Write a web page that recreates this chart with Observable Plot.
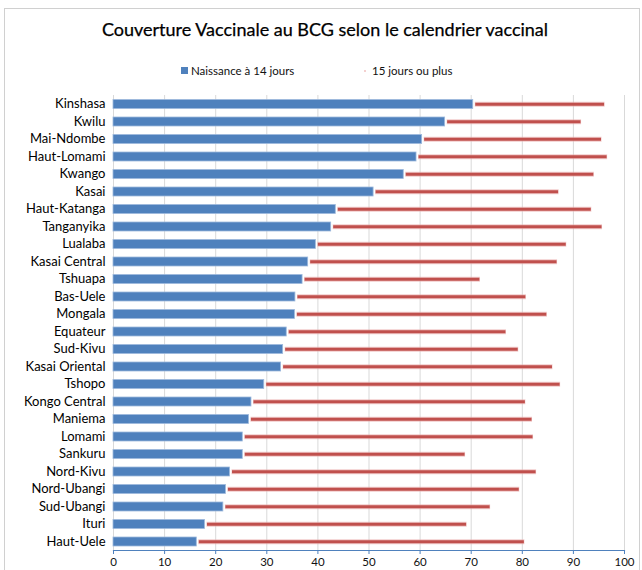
<!DOCTYPE html>
<html>
<head>
<meta charset="utf-8">
<script src="https://cdn.jsdelivr.net/npm/d3@7"></script>
<script src="https://cdn.jsdelivr.net/npm/@observablehq/plot@0.6"></script>
<style>
  html, body { margin: 0; padding: 0; background: #fff; }
  body { width: 642px; height: 570px; overflow: hidden; position: relative; font-family: Lato, "DejaVu Sans", sans-serif; }
  #frame { position: absolute; left: 4px; top: 8px; width: 636px; height: 600px; border: 1px solid #d0d0d0; box-sizing: border-box; }
  #title { position: absolute; left: 0; top: 18px; width: 650px; text-align: center; font-size: 18px; font-weight: normal; color: #000; -webkit-text-stroke: 0.25px #000; }
  #legend { position: absolute; top: 64px; left: 0; width: 642px; font-size: 11.5px; color: #111; }
  .li { position: absolute; display: flex; align-items: center; white-space: nowrap; }
  .sw { display: inline-block; margin-right: 3px; }
  #chart { position: absolute; left: 0; top: 90px; }
  #chart svg { display: block; }
</style>
</head>
<body>
<div id="frame"></div>
<div id="title">Couverture Vaccinale au BCG selon le calendrier vaccinal</div>
<div id="legend"></div>
<div id="chart"></div>
<script>
const regions = ["Kinshasa","Kwilu","Mai-Ndombe","Haut-Lomami","Kwango","Kasai","Haut-Katanga","Tanganyika","Lualaba","Kasai Central","Tshuapa","Bas-Uele","Mongala","Equateur","Sud-Kivu","Kasai Oriental","Tshopo","Kongo Central","Maniema","Lomami","Sankuru","Nord-Kivu","Nord-Ubangi","Sud-Ubangi","Ituri","Haut-Uele"];
const naissance14 = [70.4,64.9,60.4,59.3,56.8,50.9,43.5,42.6,39.6,38.1,37.0,35.6,35.5,33.9,33.2,32.8,29.5,27.0,26.5,25.3,25.3,22.8,22.0,21.5,17.9,16.3];
const jours15plus = [25.8,26.7,35.2,37.4,37.3,36.3,50.1,53.1,49.1,48.8,34.8,45.2,49.4,43.0,46.1,53.2,58.0,53.7,55.5,56.9,43.6,60.0,57.5,52.3,51.3,64.2];
const xTicks = [0,10,20,30,40,50,60,70,80,90,100];
const seriesNames = ["Naissance à 14 jours", "15 jours ou plus"];
const colors = ["#4F81BD", "#C0504D"];

const rows = regions.map((r, i) => ({
  region: r,
  a: naissance14[i],
  b: jours15plus[i],
  end: naissance14[i] + jours15plus[i]
}));

// legend
const legend = document.getElementById("legend");
const lgPos = [{left: 181, sw: `<span class="sw" style="width:7px;height:7px;background:${colors[0]}"></span>`},
               {left: 364, sw: `<span class="sw" style="width:2px;height:2px;background:#f4d0cf;margin-right:6px"></span>`}];
seriesNames.forEach((n, i) => {
  const d = document.createElement("div");
  d.className = "li";
  d.style.left = lgPos[i].left + "px";
  d.innerHTML = lgPos[i].sw + `<span>${n}</span>`;
  legend.appendChild(d);
});

const plot = Plot.plot({
  width: 642,
  height: 482,
  marginLeft: 113,
  marginRight: 18,
  marginTop: 5,
  marginBottom: 22,
  style: { fontFamily: "Lato, 'DejaVu Sans', sans-serif", fontSize: "13px", color: "#000", background: "transparent" },
  x: { domain: [0, 100], ticks: xTicks },
  y: { domain: regions, padding: 0, round: false },
  marks: [
    Plot.gridX(xTicks, { stroke: "#d9d9d9", strokeOpacity: 1, strokeWidth: 1 }),
    Plot.barX(rows, { y: "region", x1: 0, x2: "a", fill: colors[0], stroke: "#9db9dd", strokeWidth: 0.8, insetTop: 4.5, insetBottom: 4 }),
    Plot.ruleY(rows, { y: "region", x1: "a", x2: "end", stroke: "#e8a9a8", strokeWidth: 5, insetLeft: 2, strokeOpacity: 0.6 }),
    Plot.ruleY(rows, { y: "region", x1: "a", x2: "end", stroke: colors[1], strokeWidth: 3, insetLeft: 2.5, insetRight: 0.5 }),
    Plot.frame({ anchor: "bottom", stroke: colors[0], strokeWidth: 1.2 }),
    Plot.axisX(xTicks, { anchor: "bottom", tickSize: 4, stroke: colors[0], fill: "#111", tickPadding: 3, fontSize: 11.5, label: null }),
    Plot.axisY({ anchor: "left", tickSize: 0, tickPadding: 8, fill: "#000", fontSize: 13, label: null })
  ]
});
document.getElementById("chart").appendChild(plot);
</script>
</body>
</html>
